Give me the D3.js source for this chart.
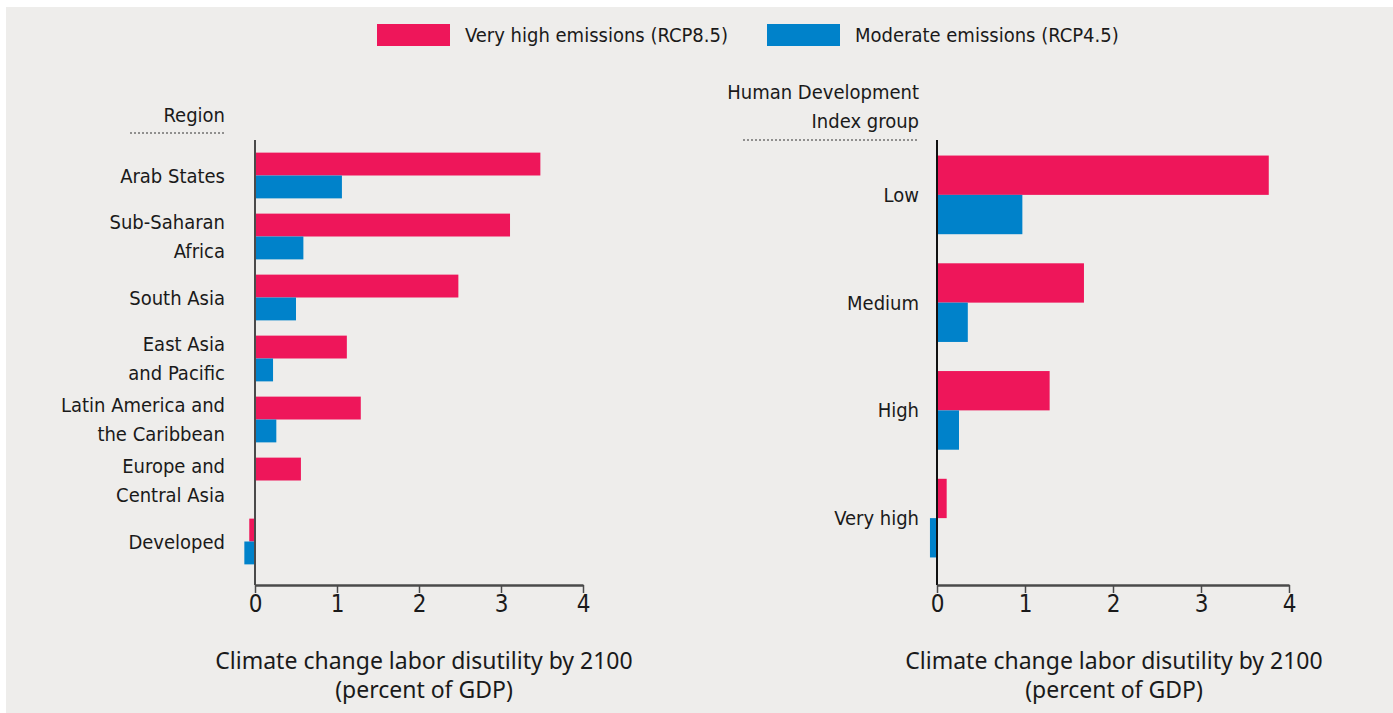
<!DOCTYPE html>
<html>
<head>
<meta charset="utf-8">
<script src="https://cdn.jsdelivr.net/npm/d3@7"></script>
<style>
  body { margin: 0; background: #ffffff; }
  svg { display: block; }
  .cat { font-family: "Liberation Sans Narrow", "Arial Narrow", "DejaVu Sans", sans-serif; font-stretch: condensed; font-size: 20px; fill: #1a1a1a; }
  .title { font-family: "Noto Sans", "Open Sans", sans-serif; font-size: 23px; fill: #1a1a1a; }
</style>
</head>
<body>
<svg id="chart"></svg>
<script>
const width = 1393;
const height = 713;

// series names + colours
const seriesNames = ["Very high emissions (RCP8.5)", "Moderate emissions (RCP4.5)"];
const seriesColors = ["#ee165a", "#0082ca"];

// left panel: regions
const regions = ["Arab States", "Sub-Saharan Africa", "South Asia", "East Asia and Pacific",
    "Latin America and the Caribbean", "Europe and Central Asia", "Developed"];
const regionLabels = [["Arab States"], ["Sub-Saharan", "Africa"], ["South Asia"], ["East Asia", "and Pacific"],
    ["Latin America and", "the Caribbean"], ["Europe and", "Central Asia"], ["Developed"]];
const regionHigh = [3.48, 3.11, 2.48, 1.12, 1.29, 0.56, -0.07];
const regionModerate = [1.06, 0.59, 0.50, 0.22, 0.26, 0.01, -0.13];

// right panel: HDI groups
const hdiGroups = ["Low", "Medium", "High", "Very high"];
const hdiHigh = [3.77, 1.67, 1.28, 0.11];
const hdiModerate = [0.97, 0.35, 0.25, -0.08];

const xTicks = [0, 1, 2, 3, 4];

const svg = d3.select("#chart")
    .attr("width", width)
    .attr("height", height);

svg.append("rect")
    .attr("x", 6).attr("y", 7)
    .attr("width", width - 6).attr("height", height - 7)
    .attr("fill", "#eeedeb");

// legend
const legend = svg.append("g");
const legendX = [377, 767];
seriesNames.forEach((name, i) => {
    legend.append("rect")
        .attr("x", legendX[i]).attr("y", 24)
        .attr("width", 73).attr("height", 22)
        .attr("fill", seriesColors[i]);
    legend.append("text")
        .attr("class", "cat")
        .attr("x", legendX[i] + 88).attr("y", 35)
        .attr("dy", "0.35em")
        .text(name);
});

function panel(opts) {
    const g = svg.append("g");
    const x = d3.scaleLinear().domain([0, 4]).range([opts.x0, opts.x1]);
    const y = d3.scaleBand().domain(opts.cats).range([opts.yTop, opts.yBottom]).paddingInner(opts.pad).paddingOuter(opts.pad / 2);
    const sub = d3.scaleBand().domain([0, 1]).range([0, y.bandwidth()]);

    opts.cats.forEach((c, i) => {
        [opts.high[i], opts.moderate[i]].forEach((v, s) => {
            g.append("rect")
                .attr("x", x(Math.min(0, v)))
                .attr("y", y(c) + sub(s))
                .attr("width", Math.abs(x(v) - x(0)))
                .attr("height", sub.bandwidth())
                .attr("fill", seriesColors[s]);
        });

        const lines = opts.labels[i];
        const cy = y(c) + y.bandwidth() / 2;
        const lh = 29;
        lines.forEach((t, k) => {
            g.append("text")
                .attr("class", "cat")
                .attr("x", opts.labelX)
                .attr("y", cy + (k - (lines.length - 1) / 2) * lh)
                .attr("dy", "0.35em")
                .attr("text-anchor", "end")
                .text(t);
        });
    });

    // vertical zero line
    g.append("line")
        .attr("x1", x(0)).attr("x2", x(0))
        .attr("y1", opts.axisTop).attr("y2", opts.axisY)
        .attr("stroke", opts.zeroColor).attr("stroke-width", 2);

    // bottom axis
    const axis = g.append("g")
        .attr("transform", `translate(0,${opts.axisY})`)
        .call(d3.axisBottom(x).tickValues(xTicks).tickSize(8).tickSizeOuter(0).tickFormat(d3.format("d")));
    axis.select(".domain").attr("stroke", "#4a4a4a").attr("stroke-width", 2.5);
    axis.selectAll(".tick line").attr("stroke", "#4a4a4a").attr("stroke-width", 1.5);
    axis.selectAll(".tick text")
        .attr("class", "cat")
        .attr("font-size", null).attr("font-family", null)
        .style("font-size", "24px")
        .attr("y", 10);

    // category header + dotted rule
    opts.header.forEach((t, k) => {
        g.append("text")
            .attr("class", "cat")
            .attr("x", opts.labelX)
            .attr("y", opts.headerY + k * 29)
            .attr("dy", "0.35em")
            .attr("text-anchor", "end")
            .text(t);
    });
    g.append("line")
        .attr("x1", opts.ruleX0).attr("x2", opts.labelX)
        .attr("y1", opts.ruleY).attr("y2", opts.ruleY)
        .attr("stroke", "#333").attr("stroke-width", 1)
        .attr("stroke-dasharray", "2,2");

    // axis title
    ["Climate change labor disutility by 2100", "(percent of GDP)"].forEach((t, k) => {
        g.append("text")
            .attr("class", "title")
            .attr("x", opts.titleX)
            .attr("y", 661 + k * 29)
            .attr("dy", "0.35em")
            .attr("text-anchor", "middle")
            .text(t);
    });
}

panel({
    cats: regions, labels: regionLabels, high: regionHigh, moderate: regionModerate,
    x0: 255, x1: 583, yTop: 145, yBottom: 572, pad: 0.25,
    axisTop: 140, axisY: 585, labelX: 225, zeroColor: "#4a4a4a",
    header: ["Region"], headerY: 115, ruleX0: 130, ruleY: 133, titleX: 424
});

panel({
    cats: hdiGroups, labels: hdiGroups.map(d => [d]), high: hdiHigh, moderate: hdiModerate,
    x0: 937, x1: 1289, yTop: 141, yBottom: 572, pad: 0.27,
    axisTop: 140, axisY: 585, labelX: 919, zeroColor: "#111",
    header: ["Human Development", "Index group"], headerY: 92, ruleX0: 743, ruleY: 140, titleX: 1114
});
</script>
</body>
</html>
